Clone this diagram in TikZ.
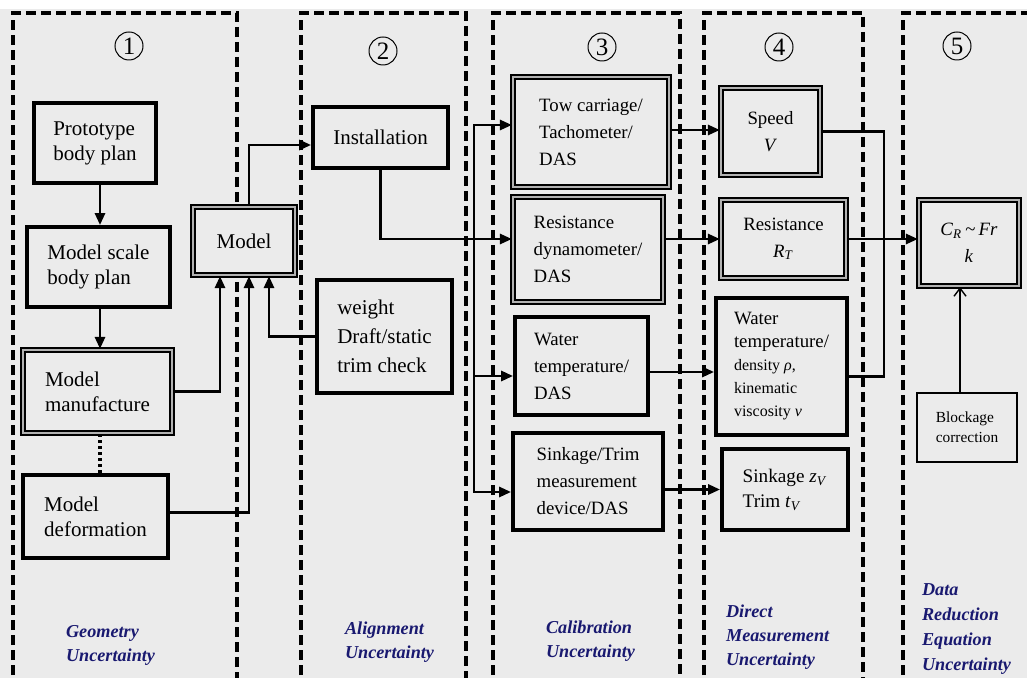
\documentclass[tikz,border=0pt]{standalone}
\usepackage{fontspec}
\setmainfont{Liberation Serif}
\usetikzlibrary{arrows.meta,calc}
\definecolor{bg}{RGB}{235,235,235}
\definecolor{navy}{RGB}{25,25,112}
\tikzset{
  base/.style={inner sep=0pt, align=left, fill=bg},
  sbox/.style={base, draw, line width=1.9pt},
  dbox/.style={base, draw, line width=1.1pt, double=gray!60, double distance=1pt},
  fa/.style={font=\fontsize{10.5}{12.5}\selectfont},
  fb/.style={font=\fontsize{9.4}{13.5}\selectfont},
  conn/.style={line width=1.4pt},
  arr/.style={conn, -{Triangle[length=6pt,width=5pt]}},
  region/.style={line width=1.6pt, dash pattern=on 5pt off 2.5pt},
  ttl/.style={anchor=west, align=left, text=navy, font=\fontsize{9.1}{12}\selectfont\bfseries\itshape},
  num/.style={circle, draw, line width=0.5pt, minimum size=14pt, inner sep=0pt, font=\fontsize{12.5}{12.5}\selectfont},
}
\begin{document}
\begin{tikzpicture}[x=0.5pt,y=-0.5pt]
\useasboundingbox (0,0) rectangle (1027,678);
\clip (0,0) rectangle (1027,678);
\fill[bg] (0,9) rectangle (1027,678);
% regions
\draw[region] (13,690) |- (237,13) -- (237,690);
\draw[region] (301,690) |- (466,13) -- (466,690);
\draw[region] (493,690) |- (680,13) -- (680,690);
\draw[region] (704,690) |- (863,13) -- (863,690);
\draw[region] (903,690) |- (1040,13);
% numbers
\node[num] (n1) at (129,46) {1};
\node[num] (n2) at (383,51) {2};
\node[num] (n3) at (602,47) {3};
\node[num] (n4) at (779,47) {4};
\node[num] (n5) at (957,46) {5};
% region 1
\node[sbox, fa, minimum width=61pt, minimum height=40pt] (proto) at (95,143) {Prototype\\body plan};
\node[sbox, fa, minimum width=71.5pt, minimum height=40pt] (scale) at (98.5,267) {Model scale\\body plan};
\node[dbox, fa, minimum width=74.5pt, minimum height=41.5pt] (manuf) at (97.5,391.5) {Model\\manufacture};
\node[sbox, fa, minimum width=72.5pt, minimum height=41.5pt] (deform) at (95.5,516.5) {Model\\deformation};
\node[dbox, fa, minimum width=51pt, minimum height=34pt] (model) at (244,241) {Model};
% region 2
\node[sbox, fa, minimum width=67.5pt, minimum height=30.5pt] (install) at (380.5,137.5) {Installation};
\node[sbox, fa, font=\fontsize{10.5}{14.5}\selectfont, minimum width=67.5pt, minimum height=56.5pt] (weight) at (384.5,336.5) {weight\\Draft/static\\trim check};
% region 3
\node[dbox, fb, minimum width=78pt, minimum height=55pt] (tow) at (591,132) {Tow carriage/\\Tachometer/\\DAS};
\node[dbox, fb, minimum width=75pt, minimum height=52.5pt] (resdyn) at (588,249.5) {Resistance\\dynamometer/\\DAS};
\node[sbox, fb, minimum width=66.5pt, minimum height=49pt] (water3) at (581.5,366) {Water\\temperature/\\DAS};
\node[sbox, fb, minimum width=75pt, minimum height=48.5pt] (sink3) at (588,481.5) {Sinkage/Trim\\measurement\\device/DAS};
% region 4
\node[dbox, fb, align=center, minimum width=49.5pt, minimum height=43.5pt] (speed) at (770.5,131.5) {Speed\\\textit{V}};
\node[dbox, fb, align=center, minimum width=62.5pt, minimum height=39pt] (resT) at (783.5,239) {Resistance\\\textit{R}\textsubscript{\textit{T}}};
\node[sbox, fb, font=\fontsize{9.4}{11.5}\selectfont, minimum width=65.5pt, minimum height=68.5pt] (water4) at (781.5,366.5) {Water\\temperature/\\{\fontsize{8}{10}\selectfont density \textit{ρ},}\\{\fontsize{8}{10}\selectfont kinematic}\\{\fontsize{8}{10}\selectfont viscosity \textit{ν}}};
\node[sbox, fb, font=\fontsize{9.6}{12.5}\selectfont, minimum width=63pt, minimum height=40.5pt] (sink4) at (785,489.5) {Sinkage \textit{z}\textsubscript{\textit{V}}\\Trim \textit{t}\textsubscript{\textit{V}}};
% region 5
\node[dbox, fb, align=center, minimum width=50pt, minimum height=43pt] (CR) at (969,243) {\textit{C}\textsubscript{\textit{R}}\,\textasciitilde\,\textit{Fr}\\\textit{k}};
\node[base, draw, line width=1.4pt, font=\fontsize{7.7}{10}\selectfont, minimum width=50pt, minimum height=34.5pt] (block) at (967,427.5) {Blockage\\correction};
% titles
\node[ttl] (t1) at (59,645) {Geometry\\Uncertainty};
\node[ttl] (t2) at (338,642.5) {Alignment\\Uncertainty};
\node[ttl] (t3) at (539,641.5) {Calibration\\Uncertainty};
\node[ttl] (t4) at (719,637.5) {Direct\\Measurement\\Uncertainty};
\node[ttl, font=\fontsize{9.1}{12.5}\selectfont\bfseries\itshape] (t5) at (915,629.5) {Data\\Reduction\\Equation\\Uncertainty};
% helper coordinates
\coordinate (p1) at ($(proto.south)+(5,0)$);
\coordinate (p2) at ($(scale.south)+(1.5,0)$);
\coordinate (p3) at ($(manuf.south)+(2.5,0)$);
\coordinate (m1) at ($(model.south)+(-24,0)$);
\coordinate (m2) at ($(model.south)+(5,0)$);
\coordinate (m3) at ($(model.south)+(25,0)$);
\coordinate (m4) at ($(model.north)+(5,0)$);
\coordinate (d1) at ($(deform.east)+(0,-4)$);
\coordinate (i1) at ($(install.west)+(0,7.5)$);
\coordinate (tw) at ($(tow.west)+(0,-7)$);
\coordinate (w3w) at ($(water3.west)+(0,10)$);
\coordinate (s3w) at ($(sink3.west)+(0,10.5)$);
\coordinate (te) at ($(tow.east)+(0,-2)$);
\coordinate (w3e) at ($(water3.east)+(0,6)$);
\coordinate (w4e) at ($(water4.east)+(0,10)$);
\coordinate (rail) at ($(water4.east)+(35,10)$);
\coordinate (bn) at ($(block.north)+(-7,0)$);
\coordinate (bus) at (474,239);
% connectors region 1
\draw[arr] (p1) -- (p1 |- scale.north);
\draw[arr] (p2) -- (p2 |- manuf.north);
\draw[line width=1.8pt, dash pattern=on 1.5pt off 1.5pt] (p3) -- (p3 |- deform.north);
\draw[arr] (manuf.east) -| (m1);
\draw[arr] (d1) -| (m2);
\draw[arr] (weight.west) -| (m3);
\draw[arr] (m4) |- (i1);
% installation to resistance, bus
\draw[arr] (install.south) |- (resdyn.west |- resT.west);
\draw[arr] (bus) |- (tw);
\draw[arr] (bus) |- (w3w);
\draw[arr] (bus) |- (s3w);
% region 3 to 4
\draw[arr] (te) -- (te -| speed.west);
\draw[arr] (resdyn.east |- resT.west) -- (resT.west);
\draw[arr] (w3e) -- (w3e -| water4.west);
\draw[arr] (sink3.east |- sink4.west) -- (sink4.west);
% region 4 to 5
\draw[conn] (speed.east) -| (rail) -- (w4e);
\draw[arr] (resT.east) -- (resT.east -| CR.west);
\draw[line width=0.7pt, -{Straight Barb[length=4pt,width=6pt]}] (bn) -- (bn |- CR.south);
\end{tikzpicture}
\end{document}
